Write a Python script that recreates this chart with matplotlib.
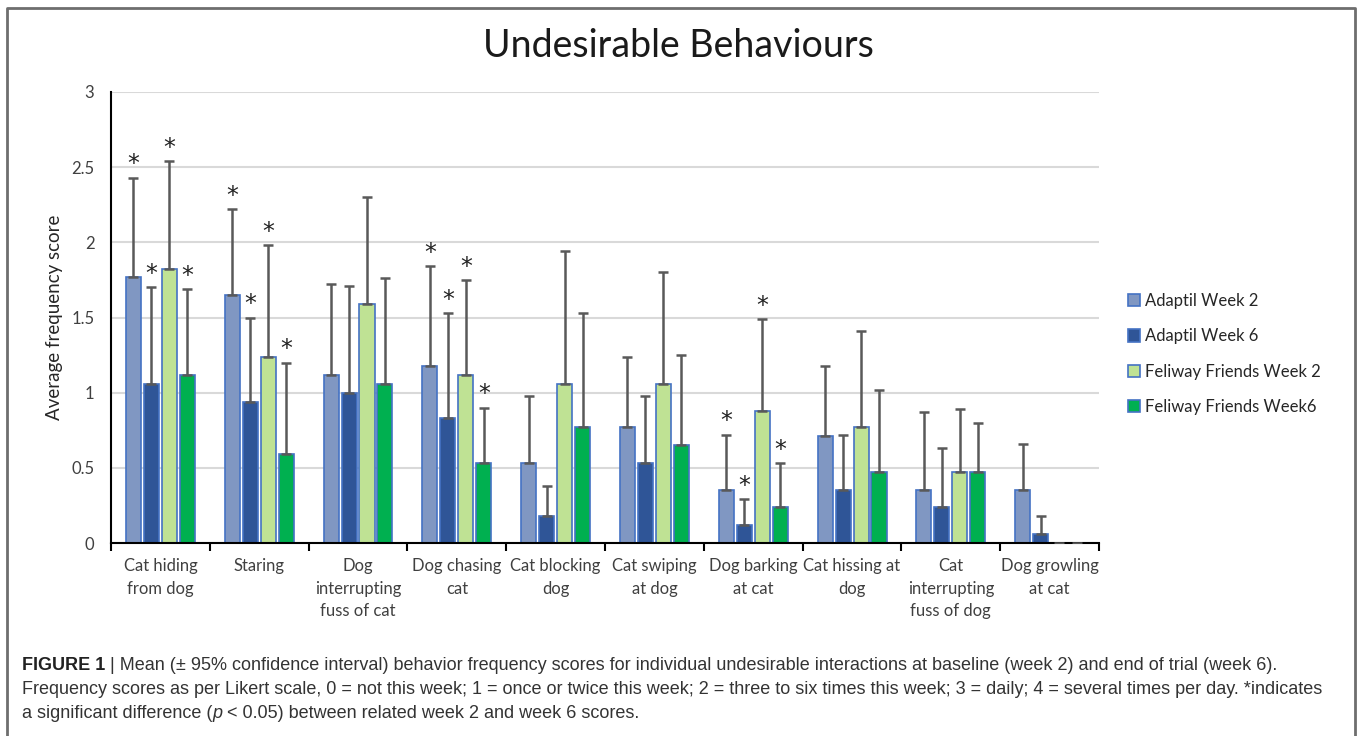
import numpy as np
import matplotlib
matplotlib.use("Agg")
import matplotlib.pyplot as plt
from matplotlib.patches import Patch

categories = ["Cat hiding\nfrom dog", "Staring", "Dog\ninterrupting\nfuss of cat",
              "Dog chasing\ncat", "Cat blocking\ndog", "Cat swiping\nat dog",
              "Dog barking\nat cat", "Cat hissing at\ndog", "Cat\ninterrupting\nfuss of dog",
              "Dog growling\nat cat"]
series = ["Adaptil Week 2", "Adaptil Week 6", "Feliway Friends Week 2", "Feliway Friends Week6"]

# means
adaptil_w2 = [1.77, 1.65, 1.12, 1.18, 0.53, 0.77, 0.35, 0.71, 0.35, 0.35]
adaptil_w6 = [1.06, 0.94, 1.00, 0.83, 0.18, 0.53, 0.12, 0.35, 0.24, 0.06]
feliway_w2 = [1.82, 1.24, 1.59, 1.12, 1.06, 1.06, 0.88, 0.77, 0.47, 0.0]
feliway_w6 = [1.12, 0.59, 1.06, 0.53, 0.77, 0.65, 0.24, 0.47, 0.47, 0.0]
# upper 95% CI
adaptil_w2_ci = [2.43, 2.22, 1.72, 1.84, 0.98, 1.24, 0.72, 1.18, 0.87, 0.66]
adaptil_w6_ci = [1.70, 1.50, 1.71, 1.53, 0.38, 0.98, 0.29, 0.72, 0.63, 0.18]
feliway_w2_ci = [2.54, 1.98, 2.30, 1.75, 1.94, 1.80, 1.49, 1.41, 0.89, np.nan]
feliway_w6_ci = [1.69, 1.20, 1.76, 0.90, 1.53, 1.25, 0.53, 1.02, 0.80, np.nan]
# categories with significant week 2 vs week 6 difference
significant = [0, 1, 3, 6]

means = [adaptil_w2, adaptil_w6, feliway_w2, feliway_w6]
cis = [adaptil_w2_ci, adaptil_w6_ci, feliway_w2_ci, feliway_w6_ci]
colors = ["#8097C2", "#2F5597", "#BFE294", "#00B050"]
edge = "#4472C4"

plt.rcParams["font.family"] = ["Lato", "DejaVu Sans"]

fig = plt.figure(figsize=(13.57, 7.36), dpi=100)
ax = fig.add_axes([0.0818, 0.2622, 0.7281, 0.6128])

x = np.arange(len(categories))
width = 0.152
step = 0.182
for i in range(4):
    pos = x + (i - 1.5) * step
    m = np.array(means[i])
    top = np.array(cis[i])
    ax.bar(pos, m, width, color=colors[i], edgecolor=edge, linewidth=1.2, zorder=2)
    ax.errorbar(pos, m, yerr=[np.zeros_like(m), top - m], fmt="none",
                ecolor="#595959", elinewidth=1.8, capsize=3.5, capthick=1.8, zorder=3)
    for j in significant:
        ax.annotate("*", (pos[j], top[j]), xytext=(0, 1), textcoords="offset points",
                    ha="center", va="bottom", fontsize=17, color="#222222",
                    family="DejaVu Sans")

ax.set_xlim(-0.5, len(categories) - 0.5)
ax.set_ylim(0, 3)
ax.set_yticks(np.arange(0, 3.01, 0.5))
ax.set_yticklabels(["0", "0.5", "1", "1.5", "2", "2.5", "3"])
ax.tick_params(axis="y", length=0, labelsize=12, labelcolor="#404040", pad=12)
ax.set_xticks(x)
ax.set_xticklabels(categories, fontsize=12, color="#404040", linespacing=1.5)
ax.set_xticks(np.arange(-0.5, len(categories)), minor=True)
ax.tick_params(axis="x", which="major", length=0, pad=11)
ax.tick_params(axis="x", which="minor", length=6, width=1.5, direction="out", color="black")
ax.grid(axis="y", color="#D9D9D9", linewidth=1.5, zorder=0)
ax.set_axisbelow(True)
for s in ["top", "right"]:
    ax.spines[s].set_visible(False)
ax.spines["left"].set_linewidth(1.5)
ax.spines["bottom"].set_linewidth(1.5)
ax.set_ylabel("Average frequency score", fontsize=13.5, color="#262626", labelpad=6)

fig.text(0.4996, 0.937, "Undesirable Behaviours", ha="center", va="center",
         fontsize=27, color="#1a1a1a")

handles = [Patch(facecolor=c, edgecolor=edge, linewidth=1.2) for c in colors]
fig.legend(handles, series, loc="upper left", bbox_to_anchor=(0.82, 0.622),
           frameon=False, fontsize=12, handlelength=0.75, handleheight=0.75,
           handletextpad=0.3, labelspacing=1.15, labelcolor="#262626")

# figure frame (open at the bottom)
fig.add_artist(plt.Line2D([0.0052, 0.0052, 0.9985, 0.9985], [0.0, 0.989, 0.989, 0.0],
                          transform=fig.transFigure, color="#6e6e6e", linewidth=2))

# caption, pieces laid out one after another on each line
cap = dict(fontsize=13.0, color="#333333", family=["Liberation Sans", "DejaVu Sans"],
           va="baseline")
lines = [
    [("FIGURE 1", {"fontweight": "bold", "color": "#222222"}),
     (" | Mean (\u00b1 95% confidence interval) behavior frequency scores for individual "
      "undesirable interactions at baseline (week 2) and end of trial (week 6).", {})],
    [("Frequency scores as per Likert scale, 0 = not this week; 1 = once or twice this week; "
      "2 = three to six times this week; 3 = daily; 4 = several times per day. *indicates", {})],
    [("a significant difference (", {}), ("p", {"style": "italic"}),
     (" < 0.05) between related week 2 and week 6 scores.", {})],
]
baselines = [0.09, 0.0575, 0.025]
renderer = fig.canvas.get_renderer()
for parts, yb in zip(lines, baselines):
    xpos = 0.0162
    for s, kw in parts:
        t = fig.text(xpos, yb, s, **{**cap, **kw})
        w = t.get_window_extent(renderer).width
        xpos += w / fig.bbox.width

fig.savefig("out.png", dpi=100)
